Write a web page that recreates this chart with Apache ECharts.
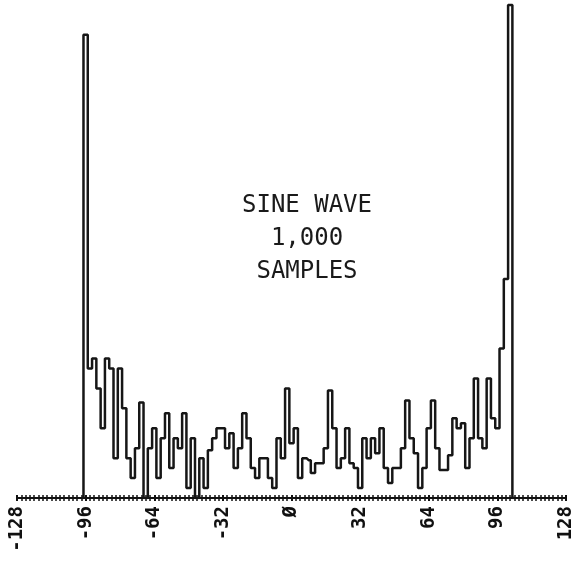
<!DOCTYPE html>
<html>
<head>
<meta charset="utf-8">
<script src="https://cdn.jsdelivr.net/npm/echarts@6/dist/echarts.min.js"></script>
<style>
html,body{margin:0;padding:0;background:#fff;}
#chart{width:576px;height:561px;}
</style>
</head>
<body>
<div id="chart"></div>
<script>
// Histogram of a sine wave, 1,000 samples; bins 2 units wide
const binStart = -98;   // centre of first bin
const binStep = 2;
const counts = [
  0, 46.5, 13, 14, 11, 7, 14, 13, 4, 13, 9,
  4, 2, 5, 9.6, 0, 5, 7, 2, 6, 8.5,
  3, 6, 5, 8.5, 1, 6, 0, 4, 1, 4.8,
  6, 7, 7, 5, 6.5, 3, 5, 8.5, 6, 3,
  2, 4, 4, 2, 1, 6, 4, 11, 5.5, 7,
  2, 4, 3.8, 2.5, 3.5, 3.5, 5, 10.8, 7, 3,
  4, 7, 3.5, 3, 1, 6, 4, 6, 4.5, 7,
  3, 1.5, 3, 3, 5, 9.8, 6, 4.5, 1, 3,
  7, 9.8, 5, 2.8, 2.8, 4.3, 8, 7, 7.5, 3,
  6, 12, 6, 5, 12, 8, 7, 15, 22, 49.5,
  0
];
const xTicks = [-128, -96, -64, -32, 0, 32, 64, 96, 128];
const titleLines = ['SINE WAVE', '1,000', 'SAMPLES'];

const binCentres = counts.map((_, i) => binStart + i * binStep);
const seriesData = binCentres.map((x, i) => [x, counts[i]]);

const chart = echarts.init(document.getElementById('chart'), null, {renderer: 'canvas'});
const font = "'DejaVu Sans Mono', 'Liberation Mono', monospace";
chart.setOption({
  animation: false,
  backgroundColor: '#ffffff',
  title: {
    text: titleLines.join('\n'),
    left: 302,
    top: 184,
    textAlign: 'center',
    textStyle: {fontFamily: font, fontSize: 24, fontWeight: 'normal', color: '#1a1a1a', lineHeight: 33}
  },
  grid: {left: 17, right: 10, top: 0, bottom: 63, containLabel: false},
  xAxis: [{
    type: 'value',
    min: xTicks[0],
    max: xTicks[xTicks.length - 1],
    interval: 32,
    position: 'bottom',
    splitLine: {show: false},
    axisLine: {show: true, onZero: false, lineStyle: {color: '#111', width: 2}},
    axisTick: {show: true, length: 3, lineStyle: {color: '#111', width: 2}},
    minorTick: {show: true, splitNumber: 16, length: 3, lineStyle: {color: '#111', width: 1.5}},
    axisLabel: {
      show: true, rotate: 90, margin: 8,
      fontFamily: font, fontSize: 19, fontWeight: 'bold', color: '#111',
      showMinLabel: true, showMaxLabel: true,
      formatter: v => (v === 0 ? 'Ø' : String(v))
    }
  }, {
    type: 'value',
    min: xTicks[0],
    max: xTicks[xTicks.length - 1],
    interval: 32,
    position: 'bottom',
    offset: 0,
    splitLine: {show: false},
    axisLine: {show: false, onZero: false},
    axisTick: {show: true, inside: true, length: 3, lineStyle: {color: '#111', width: 2}},
    minorTick: {show: true, splitNumber: 16, length: 3, lineStyle: {color: '#111', width: 1.5}},
    axisLabel: {show: false}
  }],
  yAxis: {
    type: 'value', min: 0, max: 50, show: false,
    splitLine: {show: false}
  },
  series: [{
    type: 'line',
    step: 'middle',
    xAxisIndex: 0,
    data: seriesData,
    showSymbol: false,
    lineStyle: {color: '#161616', width: 2.5},
    z: 3
  }]
});
</script>
</body>
</html>
